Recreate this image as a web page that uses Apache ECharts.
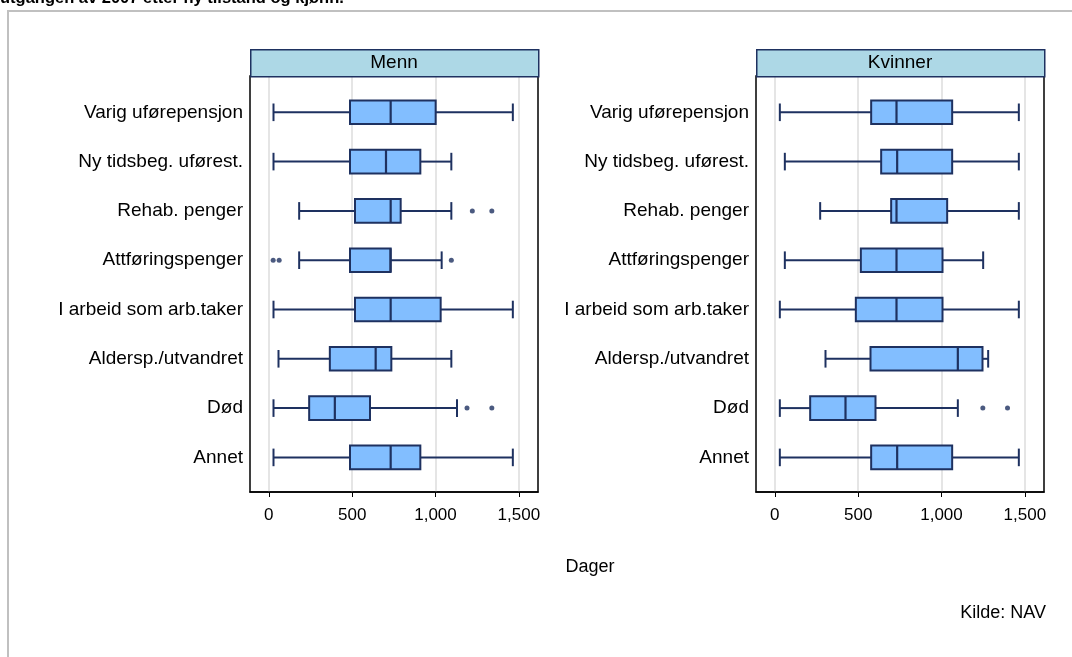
<!DOCTYPE html>
<html>
<head>
<meta charset="utf-8">
<script src="https://cdn.jsdelivr.net/npm/echarts@6/dist/echarts.min.js"></script>
<style>
html,body{margin:0;padding:0;background:#fff;}
#chart{width:1072px;height:657px;}
</style>
</head>
<body>
<div id="chart"></div>
<script>
// ---- data ----
const categories = ['Varig uførepensjon', 'Ny tidsbeg. uførest.', 'Rehab. penger', 'Attføringspenger',
  'I arbeid som arb.taker', 'Aldersp./utvandret', 'Død', 'Annet'];
const panelTitles = ['Menn', 'Kvinner'];
const tickValues = [0, 500, 1000, 1500];

// Menn: lower whisker, Q1, median, Q3, upper whisker
const menLow  = [28, 28, 182, 182, 28, 58, 28, 28];
const menQ1   = [487, 487, 517, 487, 517, 366, 242, 487];
const menMed  = [731, 703, 731, 730, 731, 641, 396, 731];
const menQ3   = [1001, 909, 791, 731, 1031, 735, 607, 909];
const menHigh = [1464, 1095, 1095, 1037, 1464, 1095, 1129, 1464];
const menOutliers = [[1221, 2], [1338, 2], [26, 3], [62, 3], [1095, 3], [1189, 6], [1338, 6]];

// Kvinner
const womenLow  = [30, 60, 272, 60, 30, 304, 30, 30];
const womenQ1   = [578, 638, 698, 516, 486, 574, 212, 578];
const womenMed  = [730, 734, 730, 730, 730, 1098, 424, 734];
const womenQ3   = [1064, 1064, 1034, 1006, 1006, 1246, 604, 1064];
const womenHigh = [1464, 1464, 1464, 1250, 1464, 1280, 1098, 1464];
const womenOutliers = [[1248, 6], [1396, 6]];

// ---- styling ----
const FONT = 'Liberation Sans, Arial, sans-serif';
const BOX_FILL = '#82BEFF';
const NAVY = '#1E3160';
const X_MIN = -113, X_MAX = 1615;

const panels = [
  {left: 250, low: menLow, q1: menQ1, med: menMed, q3: menQ3, high: menHigh, out: menOutliers},
  {left: 756, low: womenLow, q1: womenQ1, med: womenMed, q3: womenQ3, high: womenHigh, out: womenOutliers}
];
const PW = 288, FRAME_TOP = 76, FRAME_H = 416;
const BAND = 49.3;
const BOX_TOP = 112.3 - BAND / 2;
const BOX_H = BAND * categories.length;

function fmt(v) { return String(v).replace(/\B(?=(\d{3})+(?!\d))/g, ','); }

const grid = [], xAxis = [], yAxis = [], series = [], graphic = [];

panels.forEach((p, i) => {
  const gF = i * 2, gB = i * 2 + 1;
  grid.push({left: p.left, top: FRAME_TOP, width: PW, height: FRAME_H, show: true,
    borderColor: '#000', borderWidth: 1.5, backgroundColor: '#fff', containLabel: false});
  grid.push({left: p.left, top: BOX_TOP, width: PW, height: BOX_H, containLabel: false});
  xAxis.push({type: 'value', gridIndex: gF, min: X_MIN, max: X_MAX, splitNumber: 3,
    axisLine: {show: true, onZero: false, lineStyle: {color: '#000', width: 1.5}},
    axisTick: {show: true, length: 5, customValues: tickValues, lineStyle: {color: '#000', width: 1}},
    axisLabel: {customValues: tickValues, formatter: v => fmt(v), color: '#000', fontFamily: FONT, fontSize: 17, margin: 15},
    splitLine: {show: true, lineStyle: {color: '#DCDCDC', width: 1.5}}
  });
  xAxis.push({type: 'value', gridIndex: gB, min: X_MIN, max: X_MAX, show: false, splitLine: {show: false}});
  yAxis.push({type: 'value', gridIndex: gF, show: false, splitLine: {show: false}});
  yAxis.push({type: 'category', gridIndex: gB, data: categories, inverse: true,
    axisLine: {show: false}, axisTick: {show: false}, splitLine: {show: false},
    axisLabel: {color: '#000', fontFamily: FONT, fontSize: 19, margin: 7}
  });
  const boxData = categories.map((c, k) => [k, p.low[k], p.q1[k], p.med[k], p.q3[k], p.high[k]]);
  series.push({
    type: 'custom', xAxisIndex: gB, yAxisIndex: gB, z: 5,
    data: boxData,
    encode: {x: [1, 2, 3, 4, 5], y: 0},
    renderItem: function (params, api) {
      const k = api.value(0);
      const pLo = api.coord([api.value(1), k]);
      const pQ1 = api.coord([api.value(2), k]);
      const pMd = api.coord([api.value(3), k]);
      const pQ3 = api.coord([api.value(4), k]);
      const pHi = api.coord([api.value(5), k]);
      const y = pLo[1];
      const hb = 11.8, hc = 8.8;
      const ls = {stroke: NAVY, lineWidth: 2};
      return {type: 'group', children: [
        {type: 'line', shape: {x1: pLo[0], y1: y, x2: pQ1[0], y2: y}, style: ls},
        {type: 'line', shape: {x1: pQ3[0], y1: y, x2: pHi[0], y2: y}, style: ls},
        {type: 'line', shape: {x1: pLo[0], y1: y - hc, x2: pLo[0], y2: y + hc}, style: ls},
        {type: 'line', shape: {x1: pHi[0], y1: y - hc, x2: pHi[0], y2: y + hc}, style: ls},
        {type: 'rect', shape: {x: pQ1[0], y: y - hb, width: pQ3[0] - pQ1[0], height: 2 * hb},
          style: {fill: BOX_FILL, stroke: NAVY, lineWidth: 2}},
        {type: 'line', shape: {x1: pMd[0], y1: y - hb, x2: pMd[0], y2: y + hb}, style: {stroke: NAVY, lineWidth: 2.2}}
      ]};
    }
  });
  series.push({
    type: 'scatter', xAxisIndex: gB, yAxisIndex: gB, z: 6,
    data: p.out, symbol: 'circle', symbolSize: 5,
    itemStyle: {color: NAVY}
  });
  // header strip
  graphic.push({type: 'rect', left: p.left, top: 49, z: 10,
    shape: {width: PW, height: 27},
    style: {fill: '#ADD8E6', stroke: NAVY, lineWidth: 1.5}});
  graphic.push({type: 'text', x: p.left + PW / 2, y: 63, z: 11,
    style: {text: panelTitles[i], fill: '#000', font: '19px ' + FONT, align: 'center', verticalAlign: 'middle'}});
});

// outer gray border & titles
graphic.push({type: 'rect', shape: {x: 8, y: 11, width: 1200, height: 800}, z: -10,
  style: {fill: 'none', stroke: '#C0C0C0', lineWidth: 2}});
graphic.push({type: 'text', x: 0, y: 7, z: 11,
  style: {text: 'utgangen av 2007 etter ny tilstand og kjønn.', fill: '#000', font: 'bold 16.5px ' + FONT, align: 'left', verticalAlign: 'bottom'}});
graphic.push({type: 'text', x: 590, y: 567, z: 11,
  style: {text: 'Dager', fill: '#000', font: '18px ' + FONT, align: 'center', verticalAlign: 'middle'}});
graphic.push({type: 'text', x: 1046, y: 613, z: 11,
  style: {text: 'Kilde: NAV', fill: '#000', font: '18px ' + FONT, align: 'right', verticalAlign: 'middle'}});

const chart = echarts.init(document.getElementById('chart'), null, {renderer: 'canvas'});
chart.setOption({
  animation: false,
  backgroundColor: '#fff',
  grid, xAxis, yAxis, series, graphic
});
</script>
</body>
</html>
